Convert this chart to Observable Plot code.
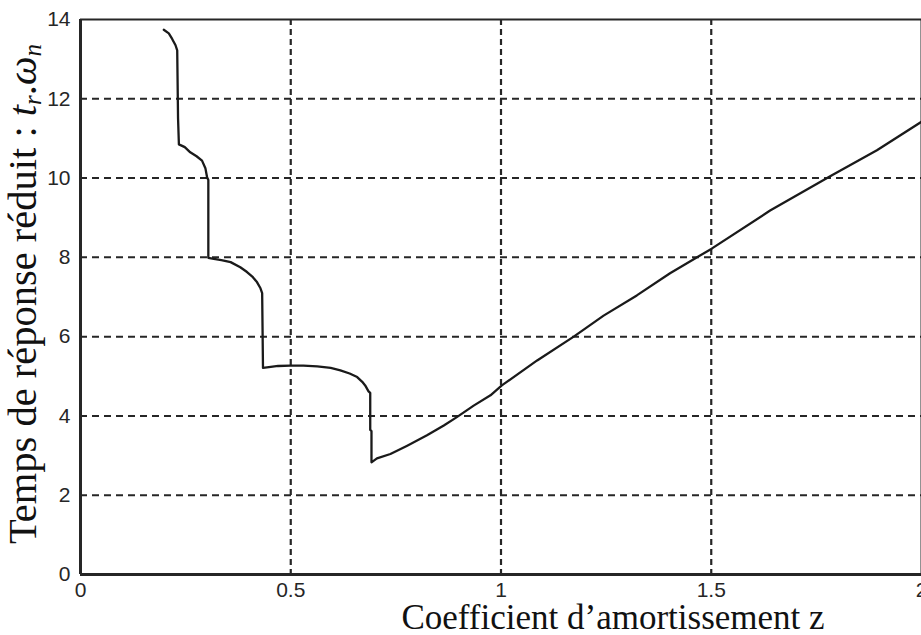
<!DOCTYPE html>
<html>
<head>
<meta charset="utf-8">
<script src="https://cdn.jsdelivr.net/npm/d3@7"></script>
<script src="https://cdn.jsdelivr.net/npm/@observablehq/plot@0.6"></script>
<style>
  html, body { margin: 0; padding: 0; background: #fff; overflow: hidden; }
  #chart svg { max-width: none !important; }
</style>
</head>
<body>
<div id="chart"></div>
<script>
// Damping coefficient z
const zVals = [0.198, 0.210, 0.218, 0.226, 0.230, 0.232, 0.234, 0.248, 0.261, 0.276, 0.289, 0.297, 0.301,
  0.304, 0.304, 0.317, 0.335, 0.357, 0.380, 0.396, 0.410, 0.420, 0.428, 0.432,
  0.434, 0.448, 0.470, 0.499, 0.530, 0.563, 0.595, 0.618, 0.640, 0.658, 0.670, 0.677, 0.685, 0.689,
  0.689, 0.692, 0.692, 0.705, 0.737, 0.777, 0.824, 0.864, 0.895, 0.935, 0.975, 1.002,
  1.086, 1.173, 1.244, 1.323, 1.402, 1.501, 1.640, 1.787, 1.894, 2.000];
// Reduced response time tr.wn
const tVals = [13.74, 13.65, 13.51, 13.35, 13.22, 11.50, 10.85, 10.78, 10.65, 10.55, 10.44, 10.25, 10.02,
  9.95, 7.99, 7.96, 7.93, 7.88, 7.75, 7.63, 7.50, 7.37, 7.22, 7.10,
  5.21, 5.23, 5.26, 5.27, 5.27, 5.25, 5.21, 5.15, 5.07, 4.98, 4.86, 4.77, 4.62, 4.58,
  3.65, 3.62, 2.83, 2.93, 3.04, 3.25, 3.51, 3.76, 3.97, 4.26, 4.52, 4.77,
  5.40, 6.00, 6.53, 7.04, 7.60, 8.22, 9.18, 10.07, 10.70, 11.42];

const xTicks = [0, 0.5, 1, 1.5, 2];
const xTickLabels = ["0", "0.5", "1", "1.5", "2"];
const yTicks = [0, 2, 4, 6, 8, 10, 12, 14];
const xGrid = [0.5, 1, 1.5];
const yGrid = [2, 4, 6, 8, 10, 12];
const xLabel = "Coefficient d\u2019amortissement z";
const yLabelMain = "Temps de réponse réduit : ";

const data = zVals.map((z, i) => ({z, t: tVals[i]}));

const ink = "#262626";
const sans = "Liberation Sans, Arial, sans-serif";

const chart = Plot.plot({
  width: 940,
  height: 635,
  marginLeft: 80,
  marginRight: 19,
  marginTop: 19,
  marginBottom: 61,
  x: {domain: [0, 2]},
  y: {domain: [0, 14]},
  style: {background: "#fff", fontSize: "21px", fontFamily: sans, maxWidth: "none"},
  marks: [
    Plot.gridX(xGrid, {stroke: ink, strokeOpacity: 1, strokeWidth: 2.2, strokeDasharray: "6,4"}),
    Plot.gridY(yGrid, {stroke: ink, strokeOpacity: 1, strokeWidth: 2, strokeDasharray: "7,5"}),
    Plot.ruleY([14], {stroke: ink, strokeWidth: 2}),
    Plot.ruleX([2], {stroke: ink, strokeWidth: 2}),
    Plot.ruleX([0], {stroke: ink, strokeWidth: 3}),
    Plot.ruleY([0], {stroke: ink, strokeWidth: 3}),
    Plot.line(data, {x: "z", y: "t", stroke: "#1a1a1a", strokeWidth: 2.3}),
    Plot.axisX({ticks: xTicks, tickFormat: (d, i) => xTickLabels[i], tickSize: 0, tickPadding: 8,
      fontSize: 21, fontFamily: sans, fill: ink, label: null}),
    Plot.axisY({ticks: yTicks, tickSize: 0, tickPadding: 10,
      fontSize: 21, fontFamily: sans, fill: ink, label: null})
  ]
});

document.getElementById("chart").appendChild(chart);

const svg = d3.select(chart);
const serif = "Liberation Serif, 'DejaVu Serif', serif";

svg.append("text")
  .attr("x", 613).attr("y", 629)
  .attr("text-anchor", "middle")
  .attr("font-family", serif)
  .attr("font-size", 35)
  .attr("fill", "#111")
  .text(xLabel);

const yl = svg.append("text")
  .attr("transform", "translate(36,294) rotate(-90)")
  .attr("text-anchor", "middle")
  .attr("font-family", serif)
  .attr("font-size", 40.5)
  .attr("fill", "#111");
yl.append("tspan").text(yLabelMain);
yl.append("tspan").attr("font-style", "italic").text("t");
yl.append("tspan").attr("font-style", "italic").attr("font-size", 25).attr("dy", 5).text("r");
yl.append("tspan").attr("dy", -5).text(".");
yl.append("tspan").attr("font-style", "italic").text("ω");
yl.append("tspan").attr("font-style", "italic").attr("font-size", 25).attr("dy", 5).text("n");
</script>
</body>
</html>
